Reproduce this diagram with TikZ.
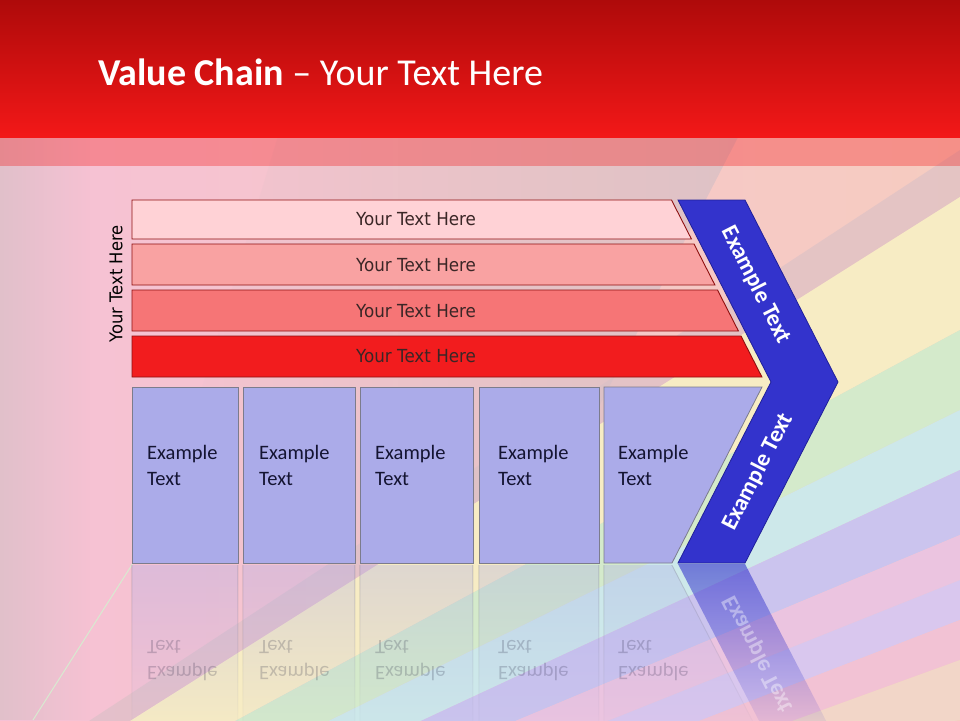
\documentclass[tikz,border=0pt]{standalone}
\usepackage{fontspec}
\setmainfont{Carlito}
\newfontfamily\tahoma[FakeStretch=0.93]{DejaVu Sans}
\usetikzlibrary{fadings}
\tikzfading[name=reflfade, top color=transparent!68, bottom color=transparent!100]
\tikzfading[name=reflfadechev, top color=transparent!40, bottom color=transparent!100]
\tikzfading[name=fadeR, left color=transparent!100, right color=transparent!20]
\tikzfading[name=fadeL, left color=transparent!30, right color=transparent!100]
\definecolor{bgL}{HTML}{F6C1D5}
\definecolor{bgR}{HTML}{F6CCC0}
\definecolor{rayY}{HTML}{F7ECC4}
\definecolor{rayG}{HTML}{D4EACB}
\definecolor{rayC}{HTML}{CDE8EA}
\definecolor{rayL}{HTML}{CBC4EE}
\definecolor{rayP}{HTML}{EBC4E0}
\definecolor{rayU}{HTML}{D9C7EE}
\definecolor{rayQ}{HTML}{F2C2D4}
\definecolor{rayE}{HTML}{F2D6C8}
\definecolor{rose}{HTML}{D8C0C6}
\definecolor{titleTop}{HTML}{AE0A0A}
\definecolor{titleBot}{HTML}{F31818}
\definecolor{barA}{HTML}{FFD2D6}
\definecolor{barB}{HTML}{F9A2A2}
\definecolor{barC}{HTML}{F67576}
\definecolor{barD}{HTML}{F21C1E}
\definecolor{barEdge}{HTML}{8E1010}
\definecolor{barText}{HTML}{3A2626}
\definecolor{boxFill}{HTML}{ABABE9}
\definecolor{boxEdge}{HTML}{7C7C8C}
\definecolor{boxText}{HTML}{141432}
\definecolor{chev}{HTML}{3333CC}
\definecolor{chevEdge}{HTML}{20209A}
\definecolor{lineG}{HTML}{D8EAD0}
\begin{document}
\begin{tikzpicture}[x=1pt,y=-1pt,
  bar/.style={draw=barEdge, line width=0.9pt},
  bartext/.style={font=\tahoma\fontsize{18}{22}\selectfont, text=barText, inner sep=0pt},
  vbox/.style={fill=boxFill, draw=boxEdge, line width=0.8pt},
  boxtext/.style={font=\fontsize{20.5}{26}\selectfont, text=boxText, align=left, anchor=north west, inner sep=0pt},
  chevpart/.style={fill=chev, draw=chevEdge, line width=0.8pt},
  chevtext/.style={font=\bfseries\fontsize{23.5}{27}\selectfont, text=white, inner sep=0pt},
  reflbox/.style={fill=boxFill, path fading=reflfade},
  refledge/.style={fill=boxEdge, path fading=reflfade},
  refltext/.style={boxtext, text opacity=0.2, yscale=-1},
]
\useasboundingbox (0,0) rectangle (960,720);
% background
\shade[left color=bgL, right color=bgR] (0,0) rectangle (960,720);
\fill[rose, path fading=fadeR] (280,130) -- (742,130) -- (520,560) -- (150,560) -- cycle;
\fill[rose, path fading=fadeL] (0,130) rectangle (90,720);
\fill[rose, opacity=0.6] (60,740) -- (960,150) -- (960,197) -- (100,740) -- cycle;
\fill[rayY] (100,740) -- (960,197) -- (960,330) -- (200,740) -- cycle;
\fill[rayG] (200,740) -- (960,330) -- (960,410) -- (290,740) -- cycle;
\fill[rayC] (290,740) -- (960,410) -- (960,470) -- (380,740) -- cycle;
\fill[rayL] (380,740) -- (960,470) -- (960,535) -- (470,740) -- cycle;
\fill[rayP] (470,740) -- (960,535) -- (960,580) -- (560,740) -- cycle;
\fill[rayU] (560,740) -- (960,580) -- (960,620) -- (650,740) -- cycle;
\fill[rayQ] (650,740) -- (960,620) -- (960,660) -- (740,740) -- cycle;
\fill[rayE] (740,740) -- (960,660) -- (960,720) -- (830,740) -- cycle;
\draw[lineG, line width=1pt] (33,720) -- (135,560);
% title band
\shade[top color=titleTop, bottom color=titleBot] (0,0) rectangle (960,137);
\fill[titleBot, opacity=0.33] (0,137) rectangle (960,166);
\node[anchor=base west, text=white, font=\fontsize{38}{44}\selectfont, inner sep=0pt] (title) at (98,85) {\textbf{Value Chain} – Your Text Here};
% side label
\node[rotate=90, font=\tahoma\fontsize{17.6}{20}\selectfont, text=black, inner sep=0pt] (side) at (116,284) {Your Text Here};
% bars
\filldraw[bar, fill=barA] (132,200) -- (671.5,200) -- (691.4,239) -- (132,239) -- cycle;
\filldraw[bar, fill=barB] (132,244) -- (694.0,244) -- (714.9,285) -- (132,285) -- cycle;
\filldraw[bar, fill=barC] (132,290) -- (717.5,290) -- (738.4,331) -- (132,331) -- cycle;
\filldraw[bar, fill=barD] (132,336) -- (741.0,336) -- (761.9,377) -- (132,377) -- cycle;
\node[bartext] (t1) at (416,219.5) {Your Text Here};
\node[bartext] (t2) at (416,265.5) {Your Text Here};
\node[bartext] (t3) at (416,311) {Your Text Here};
\node[bartext] (t4) at (416,356.5) {Your Text Here};
% boxes
\filldraw[vbox] (132,387) rectangle (238,563);
\filldraw[vbox] (243,387) rectangle (355,563);
\filldraw[vbox] (360,387) rectangle (473,563);
\filldraw[vbox] (479,387) rectangle (599,563);
\filldraw[vbox] (604,387) -- (762,387) -- (672,563) -- (604,563) -- cycle;
\node[boxtext] (e1) at (147,445.5) {Example\\Text};
\node[boxtext] (e2) at (259,445.5) {Example\\Text};
\node[boxtext] (e3) at (375,445.5) {Example\\Text};
\node[boxtext] (e4) at (498,445.5) {Example\\Text};
\node[boxtext] (e5) at (618,445.5) {Example\\Text};
% chevron
\filldraw[chevpart] (678,200) -- (745,200) -- (838,382) -- (745,563) -- (678,563) -- (771,382) -- cycle;
\node[chevtext, rotate=-62.9] (c1) at (756,285) {Example Text};
\node[chevtext, rotate=62.9] (c2) at (758,472) {Example Text};
% reflections
\fill[reflbox] (132,565) rectangle (238,739);
\fill[reflbox] (243,565) rectangle (355,739);
\fill[reflbox] (360,565) rectangle (473,739);
\fill[reflbox] (479,565) rectangle (599,739);
\fill[reflbox] (604,565) -- (672,565) -- (762,739) -- (604,739) -- cycle;
\fill[refledge] (131.5,565) rectangle (132.5,739) (237.5,565) rectangle (238.5,739)
  (242.5,565) rectangle (243.5,739) (354.5,565) rectangle (355.5,739)
  (359.5,565) rectangle (360.5,739) (472.5,565) rectangle (473.5,739)
  (478.5,565) rectangle (479.5,739) (598.5,565) rectangle (599.5,739)
  (603.5,565) rectangle (604.5,739)
  (671.5,565) -- (672.5,565) -- (762.5,739) -- (761.5,739) -- cycle;
\fill[chev, path fading=reflfadechev] (678,564) -- (745,564) -- (838,744) -- (771,744) -- cycle;
\node[refltext] (r1) at (147,680.5) {Example\\Text};
\node[refltext] (r2) at (259,680.5) {Example\\Text};
\node[refltext] (r3) at (375,680.5) {Example\\Text};
\node[refltext] (r4) at (498,680.5) {Example\\Text};
\node[refltext] (r5) at (618,680.5) {Example\\Text};
\node[chevtext, text opacity=0.4, rotate=-62.9, yscale=-1] (rc) at (758,654) {Example Text};
\end{tikzpicture}
\end{document}
